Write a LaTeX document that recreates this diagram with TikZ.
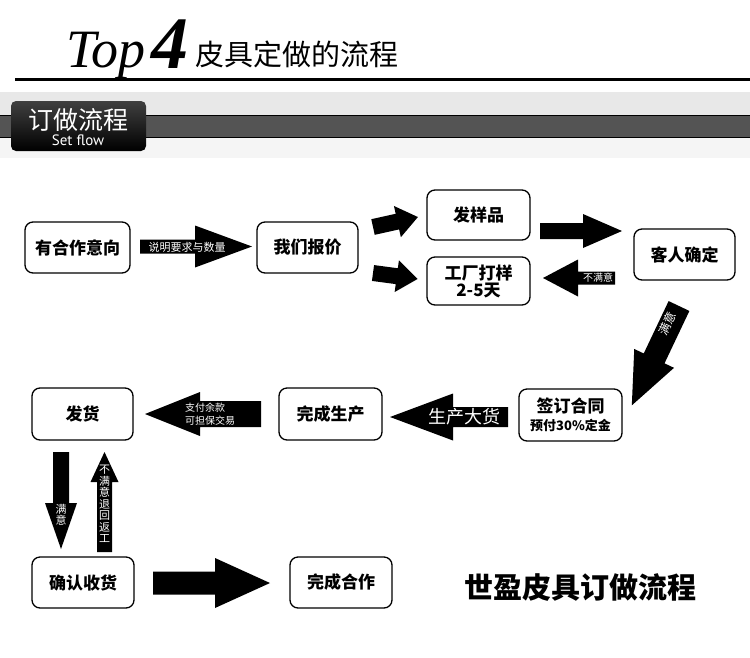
\documentclass[tikz,border=0pt]{standalone}
\usepackage{fontspec}
\setmainfont{Liberation Serif}
\newfontfamily\cjk{Noto Sans CJK SC}
\newfontfamily\latsans{PT Sans}
\newcommand{\barrow}[7]{%
  \fill[black,shift={(#1,#2)},rotate=#3] (0,-#6) -- ({#4-#5},-#6) -- ({#4-#5},-#7) -- (#4,0) -- ({#4-#5},#7) -- ({#4-#5},#6) -- (0,#6) -- cycle;}
\begin{document}
\begin{tikzpicture}[x=1pt,y=-1pt,
  box/.style={draw=black,line width=1.3pt,rounded corners=8pt,fill=white,minimum width=102pt,minimum height=51pt,inner sep=0pt,align=center,font=\cjk\bfseries\fontsize{17}{20}\selectfont},
  atext/.style={text=white,inner sep=0pt,align=center,font=\cjk\fontsize{10}{12}\selectfont},
  vtext/.style={text=white,inner sep=0pt,align=center,font=\cjk\fontsize{11}{11.5}\selectfont}]
\useasboundingbox (0,0) rectangle (750,657);
\fill[white] (0,0) rectangle (750,657);
% title
\node[anchor=base west,inner sep=0pt,font=\itshape\fontsize{54}{54}\selectfont] (top) at (66,67) {Top};
\node[anchor=base west,inner sep=0pt,font=\bfseries\itshape\fontsize{74}{74}\selectfont] (four) at (151,68) {4};
\node[anchor=west,inner sep=0pt,font=\cjk\fontsize{29}{30}\selectfont] (title) at (195,54) {皮具定做的流程};
\draw[line width=3pt] (15,79) -- (750,79);
% band
\fill[black!9] (0,92) rectangle (750,115);
\fill[black!4] (0,138) rectangle (750,158);
\fill[black!67] (0,115) rectangle (750,138);
\draw[line width=1.8pt] (0,115.5) -- (750,115.5);
\draw[line width=1.8pt] (0,137.5) -- (750,137.5);
\shade[top color=black!75,bottom color=black,rounded corners=5pt] (11,101) rectangle (146,151);
\node[text=white,inner sep=0pt,font=\cjk\fontsize{25}{26}\selectfont] (tab) at (78,120) {订做流程};
\node[text=white,inner sep=0pt,font=\latsans\fontsize{15}{15}\selectfont] (tabsub) at (78,140) {Set flow};
% nodes
\node[box,minimum width=105pt] (n1) at (77.5,247.5) {有合作意向};
\node[box,minimum width=101pt] (n2) at (307.5,247.5) {我们报价};
\node[box,minimum width=103pt,minimum height=50pt] (n3) at (478.5,215) {发样品};
\node[box,minimum width=103pt,minimum height=48pt,font=\cjk\bfseries\fontsize{17}{17}\selectfont] (n4) at (478.5,281) {工厂打样\\2-5天};
\node[box,minimum width=101pt] (n5) at (684.5,254.5) {客人确定};
\node[box,minimum width=103pt,minimum height=52pt] (n6) at (570.5,415) {签订合同\\[-2pt]{\fontsize{13}{14}\selectfont 预付30\%定金}};
\node[box,minimum width=103pt,minimum height=52pt] (n7) at (330.5,414) {完成生产};
\node[box,minimum width=101pt,minimum height=52pt] (n8) at (82.5,414) {发货};
\node[box] (n9) at (83,582.5) {确认收货};
\node[box] (n10) at (341,582.5) {完成合作};
\node[inner sep=0pt,font=\cjk\bfseries\fontsize{29}{30}\selectfont] (brand) at (580,588) {世盈皮具订做流程};
% block arrows
\barrow{140}{246.5}{0}{112}{57}{7}{21}
\node[atext,font=\cjk\fontsize{11}{12}\selectfont] (t1) at (187,247) {说明要求与数量};
\barrow{373}{227}{12.5}{46}{21}{8}{16}
\barrow{373}{273}{-7.6}{45}{21}{8}{16}
\barrow{540}{231}{0}{82}{39}{8}{17}
\barrow{615}{278}{180}{72}{35}{6.5}{18.5}
\node[atext] (t5) at (598,278) {不满意};
\barrow{679}{306}{-115.4}{110}{52}{11.5}{22}
\node[atext,font=\cjk\fontsize{12}{13}\selectfont,rotate=64.6] (t6) at (667,324) {满意};
\barrow{508}{417}{180}{118}{63}{10}{23.5}
\node[atext,font=\cjk\fontsize{18}{19}\selectfont] (t7) at (464,417) {生产大货};
\barrow{261}{414}{180}{116}{55}{13}{22}
\node[atext,align=left,font=\cjk\fontsize{10}{13}\selectfont] (t8) at (210,414) {支付余款\\可担保交易};
\barrow{61}{452}{-90}{97}{46}{8}{16}
\node[vtext] (t9) at (61,515) {满\\意};
\barrow{104.5}{552}{90}{100}{30}{7.5}{14}
\node[vtext] (t10) at (104.5,504) {不\\满\\意\\退\\回\\返\\工};
\barrow{153}{583}{0}{117}{55}{11.5}{25}
\end{tikzpicture}
\end{document}
